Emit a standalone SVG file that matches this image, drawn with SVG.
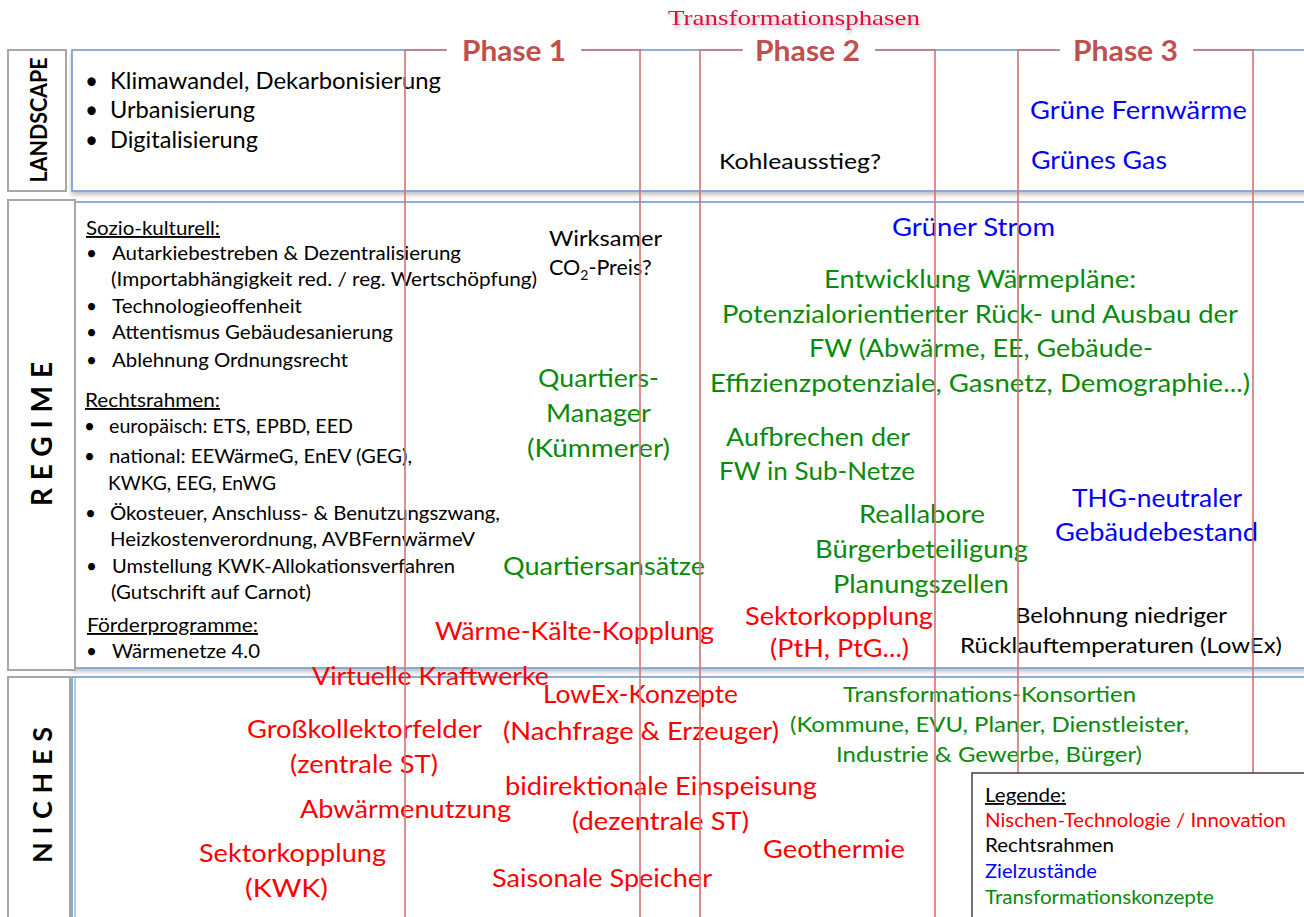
<svg xmlns="http://www.w3.org/2000/svg" width="1304" height="917" viewBox="0 0 1304 917">
<defs>
<filter id="sh" x="-5%" y="-5%" width="110%" height="120%">
<feDropShadow dx="0" dy="3" stdDeviation="2" flood-color="#000" flood-opacity="0.25"/>
</filter>
<filter id="tsh" x="-10%" y="-30%" width="120%" height="180%">
<feDropShadow dx="1" dy="3" stdDeviation="2" flood-color="#000" flood-opacity="0.3"/>
</filter>
<style>
.lbl{fill:#fff;stroke:#a6a6a6;stroke-width:2}
.lay{fill:#fff;stroke:#6f9bd1;stroke-width:1.6}
.vt{font-family:Lato,"Open Sans",sans-serif;font-weight:bold;fill:#000}
.t{font-family:Lato,"Liberation Sans",sans-serif;fill:#000}
.xl{font-size:22.5px}
.s{font-size:19px}
.m{font-size:20.5px}
.l{font-size:25px}
.lg{font-size:18.5px}
.red{fill:#ff0000}
.blu{fill:#0000ff}
.grn{fill:#0a8a0a}
.u{text-decoration:underline}
.ph{stroke:#d27474;stroke-width:1.6;fill:none}
.pb{fill:#fff}
.pt{font-family:Lato,"Liberation Sans",sans-serif;font-weight:bold;font-size:28px;fill:#c0504d}
</style>
</defs>
<rect width="1304" height="917" fill="#fff"/>

<g id="layer-boxes">
<rect class="lay" x="72" y="50" width="1240" height="141" filter="url(#sh)"/>
<rect class="lay" x="72" y="202" width="1240" height="466" filter="url(#sh)"/>
<rect class="lay" x="72" y="677" width="1240" height="260" filter="url(#sh)"/>
<line x1="75" y1="202" x2="75" y2="668" stroke="#6f9bd1" stroke-width="1"/>
<line x1="75" y1="677" x2="75" y2="917" stroke="#6f9bd1" stroke-width="1"/>
</g>

<g id="landscape-label">
<rect class="lbl" x="8" y="50" width="58" height="141"/>
<text class="vt" font-size="22" text-anchor="middle" textLength="125" lengthAdjust="spacingAndGlyphs" transform="translate(39,120) rotate(-90)" y="8">LANDSCAPE</text>
</g>
<g id="regime-label">
<rect class="lbl" x="8" y="200" width="67" height="470"/>
<text class="vt" font-size="28" text-anchor="middle" textLength="144" lengthAdjust="spacing" transform="translate(42,434) rotate(-90)" y="10">REGIME</text>
</g>
<g id="niches-label">
<rect class="lbl" x="8" y="677" width="62" height="245"/>
<text class="vt" font-size="27" text-anchor="middle" textLength="136" lengthAdjust="spacing" transform="translate(42,795) rotate(-90)" y="9.5">NICHES</text>
</g>

<g id="landscape-texts" class="t xl">
<text x="85" y="89">•</text><text x="110" y="89" textLength="331" lengthAdjust="spacingAndGlyphs">Klimawandel, Dekarbonisierung</text>
<text x="85" y="118">•</text><text x="110" y="118" textLength="145" lengthAdjust="spacingAndGlyphs">Urbanisierung</text>
<text x="85" y="148">•</text><text x="110" y="148" textLength="148" lengthAdjust="spacingAndGlyphs">Digitalisierung</text>
</g>
<g id="kohleausstieg"><text class="t" font-size="21" x="719" y="169" textLength="162" lengthAdjust="spacingAndGlyphs">Kohleausstieg?</text></g>
<g id="gruene-fernwaerme"><text class="t l blu" x="1030" y="119" textLength="217" lengthAdjust="spacingAndGlyphs">Grüne Fernwärme</text></g>
<g id="gruenes-gas"><text class="t l blu" x="1031" y="169" textLength="136" lengthAdjust="spacingAndGlyphs">Grünes Gas</text></g>

<g id="regime-left" class="t s">
<text class="u" x="86" y="235" textLength="134" lengthAdjust="spacingAndGlyphs">Sozio-kulturell:</text>
<text x="86" y="260">•</text><text x="112" y="260" textLength="349" lengthAdjust="spacingAndGlyphs">Autarkiebestreben &amp; Dezentralisierung</text>
<text x="111" y="286" textLength="426" lengthAdjust="spacingAndGlyphs">(Importabhängigkeit red. / reg. Wertschöpfung)</text>
<text x="86" y="313">•</text><text x="112" y="313" textLength="190" lengthAdjust="spacingAndGlyphs">Technologieoffenheit</text>
<text x="86" y="339">•</text><text x="112" y="339" textLength="281" lengthAdjust="spacingAndGlyphs">Attentismus Gebäudesanierung</text>
<text x="86" y="367">•</text><text x="112" y="367" textLength="236" lengthAdjust="spacingAndGlyphs">Ablehnung Ordnungsrecht</text>
<text class="u" x="85" y="407" textLength="135" lengthAdjust="spacingAndGlyphs">Rechtsrahmen:</text>
<text x="84" y="433">•</text><text x="109" y="433" textLength="244" lengthAdjust="spacingAndGlyphs">europäisch: ETS, EPBD, EED</text>
<text x="84" y="463">•</text><text x="109" y="463" textLength="303" lengthAdjust="spacingAndGlyphs">national: EEWärmeG, EnEV (GEG),</text>
<text x="108" y="490" textLength="168" lengthAdjust="spacingAndGlyphs">KWKG, EEG, EnWG</text>
<text x="85" y="520">•</text><text x="110" y="520" textLength="390" lengthAdjust="spacingAndGlyphs">Ökosteuer, Anschluss- &amp; Benutzungszwang,</text>
<text x="110" y="546" textLength="365" lengthAdjust="spacingAndGlyphs">Heizkostenverordnung, AVBFernwärmeV</text>
<text x="86" y="573">•</text><text x="112" y="573" textLength="343" lengthAdjust="spacingAndGlyphs">Umstellung KWK-Allokationsverfahren</text>
<text x="111" y="599" textLength="200" lengthAdjust="spacingAndGlyphs">(Gutschrift auf Carnot)</text>
<text class="u" x="87" y="632" textLength="171" lengthAdjust="spacingAndGlyphs">Förderprogramme:</text>
<text x="86" y="658">•</text><text x="112" y="658" textLength="148" lengthAdjust="spacingAndGlyphs">Wärmenetze 4.0</text>
</g>

<g id="co2-preis" class="t">
<text x="549" y="246" font-size="20.5" textLength="113" lengthAdjust="spacingAndGlyphs">Wirksamer</text>
<text x="549" y="275" font-size="21.5">CO<tspan font-size="14" dy="5">2</tspan><tspan dy="-5">-Preis?</tspan></text>
</g>
<g id="gruener-strom"><text class="t l blu" x="892" y="236" textLength="163" lengthAdjust="spacingAndGlyphs">Grüner Strom</text></g>
<g id="waermeplaene" class="t l grn">
<text x="824" y="288" textLength="312" lengthAdjust="spacingAndGlyphs">Entwicklung Wärmepläne:</text>
<text x="722" y="323" textLength="516" lengthAdjust="spacingAndGlyphs">Potenzialorientierter Rück- und Ausbau der</text>
<text x="809" y="357" textLength="344" lengthAdjust="spacingAndGlyphs">FW (Abwärme, EE, Gebäude-</text>
<text x="710" y="392" textLength="540" lengthAdjust="spacingAndGlyphs">Effizienzpotenziale, Gasnetz, Demographie...)</text>
</g>
<g id="quartiers-manager" class="t l grn">
<text x="538" y="387" textLength="121" lengthAdjust="spacingAndGlyphs">Quartiers-</text>
<text x="546" y="422" textLength="105" lengthAdjust="spacingAndGlyphs">Manager</text>
<text x="527" y="457" textLength="143" lengthAdjust="spacingAndGlyphs">(Kümmerer)</text>
</g>
<g id="aufbrechen" class="t l grn">
<text x="726" y="446" textLength="184" lengthAdjust="spacingAndGlyphs">Aufbrechen der</text>
<text x="719" y="480" textLength="196" lengthAdjust="spacingAndGlyphs">FW in Sub-Netze</text>
</g>
<g id="thg-neutral" class="t l blu">
<text x="1072" y="507" textLength="170" lengthAdjust="spacingAndGlyphs">THG-neutraler</text>
<text x="1055" y="541" textLength="203" lengthAdjust="spacingAndGlyphs">Gebäudebestand</text>
</g>
<g id="reallabore" class="t l grn">
<text x="859" y="523" textLength="126" lengthAdjust="spacingAndGlyphs">Reallabore</text>
<text x="815" y="558" textLength="213" lengthAdjust="spacingAndGlyphs">Bürgerbeteiligung</text>
<text x="833" y="593" textLength="176" lengthAdjust="spacingAndGlyphs">Planungszellen</text>
</g>
<g id="quartiersansaetze"><text class="t l grn" x="503" y="575" textLength="202" lengthAdjust="spacingAndGlyphs">Quartiersansätze</text></g>
<g id="waerme-kaelte"><text class="t l red" x="435" y="640" textLength="279" lengthAdjust="spacingAndGlyphs">Wärme-Kälte-Kopplung</text></g>
<g id="sektorkopplung-pth" class="t l red">
<text x="745" y="625" textLength="188" lengthAdjust="spacingAndGlyphs">Sektorkopplung</text>
<text x="770" y="657" textLength="139" lengthAdjust="spacingAndGlyphs">(PtH, PtG...)</text>
</g>
<g id="belohnung" class="t m">
<text x="1015" y="623" textLength="212" lengthAdjust="spacingAndGlyphs">Belohnung niedriger</text>
<text x="960" y="653" textLength="322" lengthAdjust="spacingAndGlyphs">Rücklauftemperaturen (LowEx)</text>
</g>

<g id="virtuelle-kraftwerke"><text class="t l red" x="312" y="685" textLength="237" lengthAdjust="spacingAndGlyphs">Virtuelle Kraftwerke</text></g>
<g id="lowex" class="t l red">
<text x="543" y="703" textLength="195" lengthAdjust="spacingAndGlyphs">LowEx-Konzepte</text>
<text x="503" y="740" textLength="276" lengthAdjust="spacingAndGlyphs">(Nachfrage &amp; Erzeuger)</text>
</g>
<g id="grosskollektor" class="t l red">
<text x="247" y="738" textLength="235" lengthAdjust="spacingAndGlyphs">Großkollektorfelder</text>
<text x="290" y="773" textLength="148" lengthAdjust="spacingAndGlyphs">(zentrale ST)</text>
</g>
<g id="bidirektional" class="t l red">
<text x="505" y="795" textLength="312" lengthAdjust="spacingAndGlyphs">bidirektionale Einspeisung</text>
<text x="572" y="830" textLength="177" lengthAdjust="spacingAndGlyphs">(dezentrale ST)</text>
</g>
<g id="abwaerme"><text class="t l red" x="300" y="818" textLength="211" lengthAdjust="spacingAndGlyphs">Abwärmenutzung</text></g>
<g id="geothermie"><text class="t l red" x="763" y="858" textLength="142" lengthAdjust="spacingAndGlyphs">Geothermie</text></g>
<g id="sektorkopplung-kwk" class="t l red">
<text x="199" y="862" textLength="187" lengthAdjust="spacingAndGlyphs">Sektorkopplung</text>
<text x="245" y="897" textLength="83" lengthAdjust="spacingAndGlyphs">(KWK)</text>
</g>
<g id="saisonale"><text class="t l red" x="492" y="887" textLength="220" lengthAdjust="spacingAndGlyphs">Saisonale Speicher</text></g>
<g id="konsortien" class="t m grn">
<text x="843" y="702" textLength="293" lengthAdjust="spacingAndGlyphs">Transformations-Konsortien</text>
<text x="790" y="732" textLength="399" lengthAdjust="spacingAndGlyphs">(Kommune, EVU, Planer, Dienstleister,</text>
<text x="836" y="762" textLength="306" lengthAdjust="spacingAndGlyphs">Industrie &amp; Gewerbe, Bürger)</text>
</g>

<g id="phases">
<rect class="pb" x="447" y="40" width="134" height="14"/>
<rect class="pb" x="743" y="40" width="132" height="14"/>
<rect class="pb" x="1060" y="40" width="133" height="14"/>
<path class="ph" d="M405,917V50H446M582,50H640V917"/>
<path class="ph" d="M700,917V50H742M876,50H935V917"/>
<path class="ph" d="M1018,917V50H1059M1194,50H1253V917"/>
<text class="pt" x="462" y="61" textLength="104" lengthAdjust="spacingAndGlyphs">Phase 1</text>
<text class="pt" x="755" y="61" textLength="105" lengthAdjust="spacingAndGlyphs">Phase 2</text>
<text class="pt" x="1073" y="61" textLength="105" lengthAdjust="spacingAndGlyphs">Phase 3</text>
</g>
<g id="title"><text x="668" y="25" font-family="Liberation Serif,serif" font-size="21" fill="#e0103c" textLength="252" lengthAdjust="spacingAndGlyphs" filter="url(#tsh)">Transformationsphasen</text></g>

<g id="legend">
<rect x="972" y="773" width="340" height="150" fill="#fff" stroke="#404040" stroke-width="1.5"/>
<text class="t lg u" x="985" y="802" textLength="81" lengthAdjust="spacingAndGlyphs">Legende:</text>
<text class="t lg red" x="985" y="827" textLength="301" lengthAdjust="spacingAndGlyphs">Nischen-Technologie / Innovation</text>
<text class="t lg" x="985" y="852" textLength="129" lengthAdjust="spacingAndGlyphs">Rechtsrahmen</text>
<text class="t lg blu" x="985" y="878" textLength="112" lengthAdjust="spacingAndGlyphs">Zielzustände</text>
<text class="t lg grn" x="985" y="904" textLength="229" lengthAdjust="spacingAndGlyphs">Transformationskonzepte</text>
</g>
</svg>
